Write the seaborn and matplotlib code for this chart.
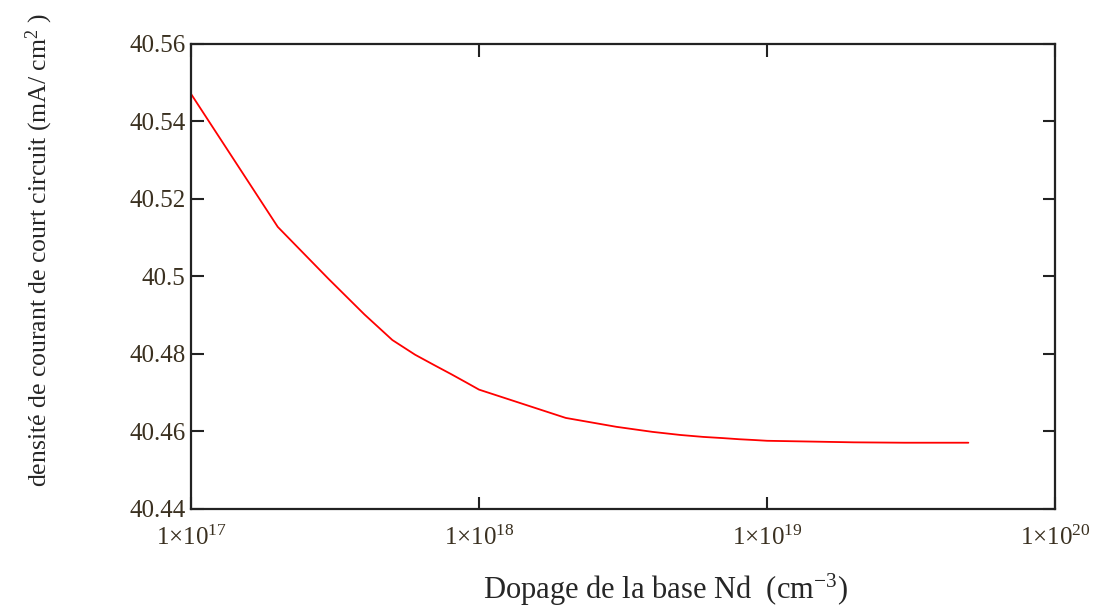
import numpy as np
import pandas as pd
import matplotlib
matplotlib.use("Agg")
import matplotlib.pyplot as plt
import seaborn as sns
from matplotlib.ticker import FixedLocator, FuncFormatter, NullLocator

# base doping (cm^-3) and short-circuit current density (mA/cm^2)
dopage = [1e17, 2e17, 3e17, 4e17, 5e17, 6e17, 7e17, 8e17, 9e17,
          1e18, 2e18, 3e18, 4e18, 5e18, 6e18, 7e18, 8e18, 9e18,
          1e19, 2e19, 3e19, 4e19, 5e19]
jcc = [40.5471, 40.5128, 40.4994, 40.4902, 40.4836, 40.4798, 40.4771, 40.4748, 40.4727,
       40.4708, 40.4635, 40.4612, 40.4599, 40.4591, 40.4586, 40.4583, 40.4580, 40.4578,
       40.4576, 40.4572, 40.4571, 40.4571, 40.4571]

x_ticks = [1e17, 1e18, 1e19, 1e20]
y_ticks = [40.44, 40.46, 40.48, 40.50, 40.52, 40.54, 40.56]

df = pd.DataFrame({"Nd": dopage, "Jcc": jcc})

sns.set_style("ticks")
plt.rcParams["font.family"] = ["Liberation Serif", "DejaVu Serif"]
plt.rcParams["mathtext.fontset"] = "custom"
plt.rcParams["mathtext.rm"] = "Liberation Serif"
plt.rcParams["mathtext.it"] = "Liberation Serif:italic"

fig = plt.figure(figsize=(11.05, 6.10), dpi=100)
ax = fig.add_axes([0.1729, 0.1656, 0.7819, 0.7623])

sns.lineplot(data=df, x="Nd", y="Jcc", ax=ax, color="#ff0000", linewidth=1.3)

ax.set_xscale("log")
ax.set_xlim(1e17, 1e20)
ax.set_ylim(40.44, 40.56)
ax.xaxis.set_major_locator(FixedLocator(x_ticks))
ax.xaxis.set_minor_locator(NullLocator())
ax.yaxis.set_major_locator(FixedLocator(y_ticks))
ax.xaxis.set_major_formatter(FuncFormatter(lambda v, p: "1\u00d710$^{%d}$" % round(np.log10(v))))
ax.yaxis.set_major_formatter(FuncFormatter(lambda v, p: ("%.2f" % v).rstrip("0")))

ax.tick_params(axis="both", which="major", direction="in", top=True, right=True,
               length=9, width=1.5, color="#222222", labelcolor="#3a3020")
ax.tick_params(axis="x", labelsize=18, pad=12)
ax.tick_params(axis="y", labelsize=18, pad=4)
for s in ax.spines.values():
    s.set_linewidth(1.6)
    s.set_color("#222222")

ax.set_xlabel("Dopage de la base Nd  (cm$^{-3}$)", fontsize=22)
ax.set_ylabel("densité de courant de court circuit (mA/ cm$^{2}$ )", fontsize=18.5)
ax.xaxis.set_label_coords(0.549, -0.135)
ax.yaxis.set_label_coords(-0.157, 0.557)

fig.savefig("out.png", dpi=100)
